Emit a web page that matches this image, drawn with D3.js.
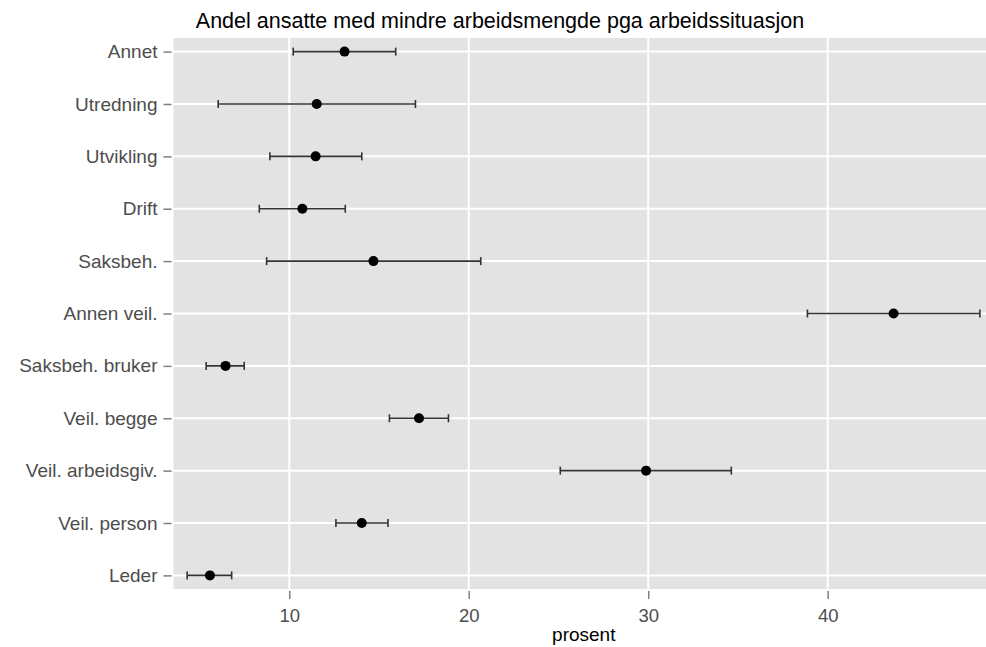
<!DOCTYPE html>
<html>
<head>
<meta charset="utf-8">
<script src="https://cdn.jsdelivr.net/npm/d3@7"></script>
<style>
  html, body { margin: 0; padding: 0; background: #ffffff; }
  svg { display: block; font-family: "Liberation Sans", Arial, sans-serif; }
</style>
</head>
<body>
<svg id="chart" width="986" height="647"></svg>
<script>
// ---- Data ----
const categories = ["Annet", "Utredning", "Utvikling", "Drift", "Saksbeh.", "Annen veil.",
  "Saksbeh. bruker", "Veil. begge", "Veil. arbeidsgiv.", "Veil. person", "Leder"];
const estimate = [13.08, 11.53, 11.47, 10.73, 14.69, 43.67, 6.45, 17.23, 29.88, 14.04, 5.58];
const lower    = [10.22, 6.04, 8.92, 8.33, 8.74, 38.87, 5.37, 15.58, 25.10, 12.60, 4.31];
const upper    = [15.93, 17.03, 14.04, 13.12, 20.67, 48.48, 7.49, 18.87, 34.63, 15.50, 6.79];
const xTicks   = [10, 20, 30, 40];
const titleText = "Andel ansatte med mindre arbeidsmengde pga arbeidssituasjon";
const xLabel = "prosent";

const rows = categories.map((c, i) => ({ cat: c, est: estimate[i], lo: lower[i], hi: upper[i] }));

// ---- Layout ----
const svg = d3.select("#chart");
const panel = { left: 173.5, right: 986, top: 38, bottom: 589 };

const x = d3.scaleLinear().domain([3.55, 48.82]).range([panel.left, panel.right]);
const y = d3.scalePoint().domain(categories).range([panel.top, panel.bottom]).padding(0.26);

// panel background
svg.append("rect")
  .attr("x", panel.left).attr("y", panel.top)
  .attr("width", panel.right - panel.left).attr("height", panel.bottom - panel.top)
  .attr("fill", "#e3e3e3");

// grid
const g = svg.append("g");
g.selectAll("line.vgrid").data(xTicks).join("line")
  .attr("x1", d => x(d)).attr("x2", d => x(d))
  .attr("y1", panel.top).attr("y2", panel.bottom)
  .attr("stroke", "#ffffff").attr("stroke-width", 2);
g.selectAll("line.hgrid").data(categories).join("line")
  .attr("x1", panel.left).attr("x2", panel.right)
  .attr("y1", d => y(d)).attr("y2", d => y(d))
  .attr("stroke", "#ffffff").attr("stroke-width", 2);

// x axis
const xAxis = d3.axisBottom(x).tickValues(xTicks).tickSize(8).tickPadding(10).tickFormat(d3.format("d"));
const xg = svg.append("g").attr("transform", `translate(0,${panel.bottom + 2})`).call(xAxis);
xg.select(".domain").remove();
xg.selectAll(".tick line").attr("stroke", "#7f7f7f").attr("stroke-width", 1.5);
xg.selectAll(".tick text").attr("fill", "#4d4d4d").style("font-size", "18.5px")
  .style("font-family", "'Liberation Sans', Arial, sans-serif");

// y axis
const yAxis = d3.axisLeft(y).tickSize(8).tickPadding(6);
const yg = svg.append("g").attr("transform", `translate(${panel.left - 2},0)`).call(yAxis);
yg.select(".domain").remove();
yg.selectAll(".tick line").attr("stroke", "#7f7f7f").attr("stroke-width", 1.5);
yg.selectAll(".tick text").attr("fill", "#4d4d4d").style("font-size", "19px")
  .style("font-family", "'Liberation Sans', Arial, sans-serif");

// error bars
const eb = svg.append("g");
const cap = 4;
eb.selectAll("line.bar").data(rows).join("line")
  .attr("x1", d => x(d.lo)).attr("x2", d => x(d.hi))
  .attr("y1", d => y(d.cat)).attr("y2", d => y(d.cat))
  .attr("stroke", "#333333").attr("stroke-width", 1.6);
eb.selectAll("line.caplo").data(rows).join("line")
  .attr("x1", d => x(d.lo)).attr("x2", d => x(d.lo))
  .attr("y1", d => y(d.cat) - cap).attr("y2", d => y(d.cat) + cap)
  .attr("stroke", "#333333").attr("stroke-width", 1.6);
eb.selectAll("line.caphi").data(rows).join("line")
  .attr("x1", d => x(d.hi)).attr("x2", d => x(d.hi))
  .attr("y1", d => y(d.cat) - cap).attr("y2", d => y(d.cat) + cap)
  .attr("stroke", "#333333").attr("stroke-width", 1.6);

// points
svg.append("g").selectAll("circle").data(rows).join("circle")
  .attr("cx", d => x(d.est)).attr("cy", d => y(d.cat)).attr("r", 5)
  .attr("fill", "#000000");

// title
svg.append("text")
  .attr("x", 500).attr("y", 28)
  .attr("text-anchor", "middle")
  .style("font-size", "21.5px").attr("fill", "#000000")
  .text(titleText);

// x label
svg.append("text")
  .attr("x", (panel.left + panel.right) / 2 + 4).attr("y", 641)
  .attr("text-anchor", "middle")
  .style("font-size", "19px").attr("fill", "#000000")
  .text(xLabel);
</script>
</body>
</html>
